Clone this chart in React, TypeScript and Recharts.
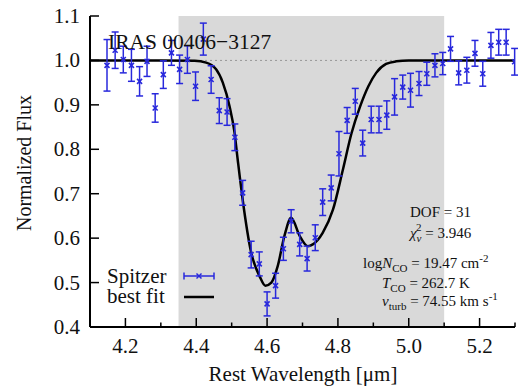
import {
  ComposedChart,
  Scatter,
  Line,
  XAxis,
  YAxis,
  ErrorBar,
  ReferenceArea,
  ReferenceLine,
} from 'recharts';

// Spitzer spectrum
const wavelength = [
  4.148, 4.171, 4.194, 4.217, 4.24, 4.261, 4.284, 4.307, 4.33, 4.353,
  4.375, 4.398, 4.42, 4.442, 4.465, 4.487, 4.509, 4.531, 4.555, 4.578,
  4.6, 4.624, 4.646, 4.668, 4.692, 4.713, 4.736, 4.757, 4.781, 4.803,
  4.826, 4.849, 4.87, 4.894, 4.916, 4.938, 4.96, 4.983, 5.005, 5.029,
  5.051, 5.074, 5.096, 5.118, 5.141, 5.164, 5.187, 5.209, 5.232, 5.254,
  5.275, 5.299,
];
const flux = [
  0.989, 1.023, 1.002, 0.989, 0.953, 0.998, 0.893, 0.968, 1.017, 0.98,
  1.002, 0.942, 1.048, 0.957, 0.887, 0.884, 0.827, 0.702, 0.563, 0.542,
  0.452, 0.493, 0.576, 0.638, 0.586, 0.554, 0.601, 0.681, 0.713, 0.79,
  0.865, 0.908, 0.814, 0.867, 0.867, 0.877, 0.918, 0.94, 0.933, 0.948,
  0.97, 0.989, 0.993, 1.026, 0.972, 0.978, 1.016, 0.97, 1.034, 1.041,
  1.041, 0.997,
];
const fluxErr = [
  0.058, 0.041, 0.03, 0.036, 0.033, 0.034, 0.032, 0.031, 0.028, 0.032,
  0.031, 0.032, 0.036, 0.031, 0.029, 0.03, 0.03, 0.028, 0.03, 0.027,
  0.027, 0.028, 0.026, 0.026, 0.026, 0.028, 0.029, 0.03, 0.029, 0.05,
  0.029, 0.029, 0.029, 0.03, 0.03, 0.032, 0.041, 0.027, 0.038, 0.027,
  0.026, 0.026, 0.025, 0.028, 0.027, 0.029, 0.029, 0.028, 0.029, 0.029,
  0.029, 0.03,
];

// best-fit model curve
const fitWavelength = [
  4.1, 4.3, 4.395, 4.428, 4.456, 4.475, 4.494, 4.508, 4.517, 4.531,
  4.555, 4.579, 4.595, 4.612, 4.63, 4.649, 4.668, 4.692, 4.715, 4.729,
  4.757, 4.786, 4.814, 4.838, 4.862, 4.886, 4.908, 4.936, 4.965, 5.0,
  5.3,
];
const fitFlux = [
  1.0, 1.0, 0.999, 0.995, 0.98, 0.95, 0.897, 0.838, 0.777, 0.687,
  0.568, 0.514, 0.493, 0.5, 0.537, 0.605, 0.646, 0.605, 0.582, 0.586,
  0.612, 0.664, 0.754, 0.835, 0.895, 0.942, 0.972, 0.992, 0.998, 1.0,
  1.0,
];

const xTicks = [4.1, 4.2, 4.3, 4.4, 4.5, 4.6, 4.7, 4.8, 4.9, 5.0, 5.1, 5.2, 5.3];
const yTicks = [0.4, 0.5, 0.6, 0.7, 0.8, 0.9, 1.0, 1.1];

const spectrum = wavelength.map((w, i) => ({ w, f: flux[i], e: fluxErr[i] }));
const fit = fitWavelength.map((w, i) => ({ w, f: fitFlux[i] }));

const BLUE = '#2828dc';
const FONT = 'Liberation Serif, Times New Roman, serif';
const txt = { fontFamily: FONT };

const XTick = (props: any) => {
  const { x, y, payload, side } = props;
  const v = payload.value;
  const major = Math.round(v * 10) % 2 === 0;
  const len = major ? 9 : 4.5;
  const dir = side === 'bottom' ? -1 : 1;
  return (
    <g>
      <line x1={x} x2={x} y1={y} y2={y + dir * len} stroke="#000" strokeWidth={1.5} />
      {side === 'bottom' && major && (
        <text x={x} y={y + 26} textAnchor="middle" fontSize={21} style={txt} fill="#111">
          {v.toFixed(1)}
        </text>
      )}
    </g>
  );
};

const YTick = (props: any) => {
  const { x, y, payload, side } = props;
  const dir = side === 'left' ? 1 : -1;
  return (
    <g>
      <line x1={x} x2={x + dir * 9} y1={y} y2={y} stroke="#000" strokeWidth={1.5} />
      {side === 'left' && (
        <text x={x - 10} y={y + 7} textAnchor="end" fontSize={21} style={txt} fill="#111">
          {payload.value.toFixed(1)}
        </text>
      )}
    </g>
  );
};

const Cross = (props: any) => {
  const { cx, cy } = props;
  const s = 2.5;
  return (
    <g stroke={BLUE} strokeWidth={1.6}>
      <line x1={cx - s} y1={cy - s} x2={cx + s} y2={cy + s} />
      <line x1={cx - s} y1={cy + s} x2={cx + s} y2={cy - s} />
    </g>
  );
};

export default function App() {
  return (
    <div style={{ position: 'absolute', left: 0, top: 0, width: 518, height: 387, background: '#fff', fontFamily: FONT }}>
      <ComposedChart width={518} height={387} margin={{ top: 16, right: 3, left: 0, bottom: 0 }}>
        <XAxis
          dataKey="w"
          type="number"
          domain={[4.1, 5.3]}
          ticks={xTicks}
          interval={0}
          tickSize={0}
          tickMargin={0}
          height={60}
          axisLine={{ stroke: '#000', strokeWidth: 2 }}
          tick={<XTick side="bottom" />}
          allowDataOverflow
        />
        <XAxis
          xAxisId="top"
          orientation="top"
          dataKey="w"
          type="number"
          domain={[4.1, 5.3]}
          ticks={xTicks}
          interval={0}
          tickSize={0}
          tickMargin={0}
          height={0}
          axisLine={{ stroke: '#000', strokeWidth: 2 }}
          tick={<XTick side="top" />}
          allowDataOverflow
        />
        <YAxis
          type="number"
          domain={[0.4, 1.1]}
          ticks={yTicks}
          interval={0}
          tickSize={0}
          tickMargin={0}
          width={90}
          axisLine={{ stroke: '#000', strokeWidth: 2 }}
          tick={<YTick side="left" />}
          allowDataOverflow
        />
        <YAxis
          yAxisId="right"
          orientation="right"
          type="number"
          domain={[0.4, 1.1]}
          ticks={yTicks}
          interval={0}
          tickSize={0}
          tickMargin={0}
          width={0}
          axisLine={{ stroke: '#000', strokeWidth: 2 }}
          tick={<YTick side="right" />}
          allowDataOverflow
        />
        <ReferenceArea x1={4.35} x2={5.1} fill="#d9d9d9" fillOpacity={1} stroke="none" />
        <ReferenceLine y={1} stroke="#999" strokeDasharray="2 3" strokeWidth={1} />
        <Line
          data={fit}
          dataKey="f"
          type="monotone"
          stroke="#000"
          strokeWidth={2.5}
          dot={false}
          isAnimationActive={false}
        />
        <Scatter data={spectrum} dataKey="f" shape={<Cross />} isAnimationActive={false}>
          <ErrorBar dataKey="e" direction="y" width={3.5} stroke={BLUE} strokeWidth={1.5} />
        </Scatter>
      </ComposedChart>
      <svg
        width={518}
        height={387}
        style={{ position: 'absolute', left: 0, top: 0, pointerEvents: 'none', fontFamily: FONT }}
        fill="#111"
      >
        <text x={108} y={49} fontSize={21.5}>IRAS 00406−3127</text>
        <text x={303} y={381} fontSize={21} textAnchor="middle">Rest Wavelength [μm]</text>
        <text x={31} y={163} fontSize={20} textAnchor="middle" transform="rotate(-90 31 163)">
          Normalized Flux
        </text>

        <text x={107} y={283} fontSize={21}>Spitzer</text>
        <text x={107} y={303} fontSize={21}>best fit</text>
        <g stroke={BLUE} strokeWidth={1.5}>
          <line x1={184} x2={214} y1={276} y2={276} />
          <line x1={184} x2={184} y1={272.5} y2={279.5} />
          <line x1={214} x2={214} y1={272.5} y2={279.5} />
          <line x1={196.5} x2={201.5} y1={273.5} y2={278.5} />
          <line x1={196.5} x2={201.5} y1={278.5} y2={273.5} />
        </g>
        <line x1={184} x2={214} y1={297} y2={297} stroke="#000" strokeWidth={2.5} />

        <g fontSize={15}>
          <text x={410} y={217}>DOF = 31</text>
          <text x={410} y={238}>
            <tspan fontStyle="italic">χ</tspan>
            <tspan fontSize={11} fontStyle="italic" dy={4}>ν</tspan>
            <tspan fontSize={11} dx={-5.5} dy={-11}>2</tspan>
            <tspan dy={7}> = 3.946</tspan>
          </text>
          <text x={363} y={268}>
            log<tspan fontStyle="italic">N</tspan>
            <tspan fontSize={11} dy={4}>CO</tspan>
            <tspan dy={-4}> = 19.47 cm</tspan>
            <tspan fontSize={11} dy={-6}>-2</tspan>
          </text>
          <text x={382} y={288}>
            <tspan fontStyle="italic">T</tspan>
            <tspan fontSize={11} dy={4}>CO</tspan>
            <tspan dy={-4}> = 262.7 K</tspan>
          </text>
          <text x={382} y={306}>
            <tspan fontStyle="italic">v</tspan>
            <tspan fontSize={11} dy={4}>turb</tspan>
            <tspan dy={-4}> = 74.55 km s</tspan>
            <tspan fontSize={11} dy={-6}>-1</tspan>
          </text>
        </g>
      </svg>
    </div>
  );
}
